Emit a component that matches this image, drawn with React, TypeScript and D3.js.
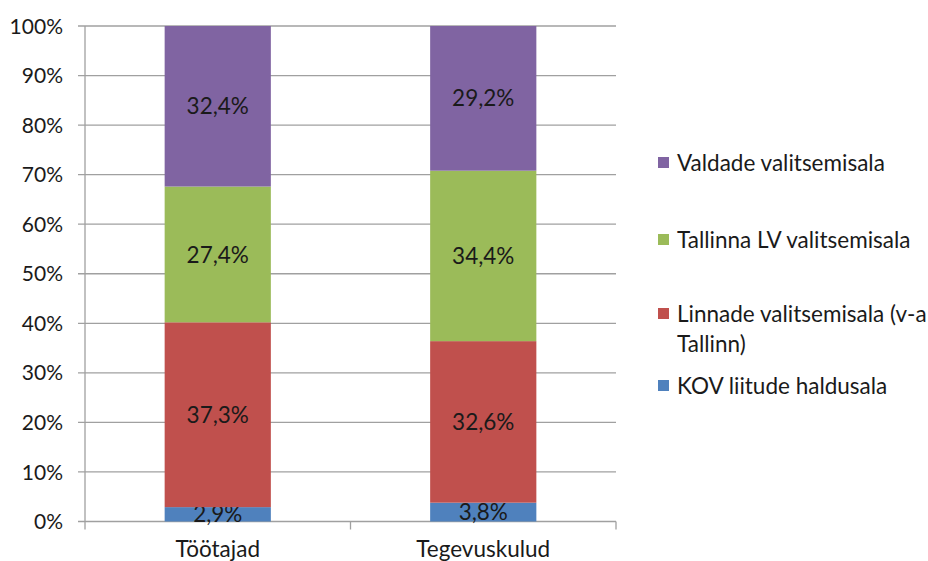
import React from "react";
import * as d3 from "d3";

const categories = ["Töötajad", "Tegevuskulud"];
const seriesNames = [
  "KOV liitude haldusala",
  "Linnade valitsemisala (v-a Tallinn)",
  "Tallinna LV valitsemisala",
  "Valdade valitsemisala",
];
const seriesColors = ["#4F81BD", "#C0504D", "#9BBB59", "#8064A2"];
const kovValues = [2.9, 3.8];
const linnadeValues = [37.3, 32.6];
const tallinnaValues = [27.4, 34.4];
const valdadeValues = [32.4, 29.2];
const yTicks = [0, 10, 20, 30, 40, 50, 60, 70, 80, 90, 100];

const seriesValues = [kovValues, linnadeValues, tallinnaValues, valdadeValues];

const W = 928;
const H = 561;
const M = { left: 85, right: 616, top: 26, bottom: 521.5 };
const FONT = "Lato, 'Liberation Sans', sans-serif";

export default function App() {
  const x = d3.scaleBand<string>().domain(categories).range([M.left, M.right]);
  const y = d3.scaleLinear().domain([0, 100]).range([M.bottom, M.top]);
  const barW = x.bandwidth() * 0.4;

  const rows = categories.map((c, i) => {
    const o: Record<string, number | string> = { cat: c };
    seriesNames.forEach((s, j) => (o[s] = seriesValues[j][i]));
    return o;
  });
  const stack = d3.stack<Record<string, number | string>>().keys(seriesNames);
  const stacked = stack(rows as any);

  const fmt = (v: number) => v.toFixed(1).replace(".", ",") + "%";

  const legendItems = [
    { idx: 3, lines: ["Valdade valitsemisala"], y: 163 },
    { idx: 2, lines: ["Tallinna LV valitsemisala"], y: 240 },
    { idx: 1, lines: ["Linnade valitsemisala (v-a", "Tallinn)"], y: 314 },
    { idx: 0, lines: ["KOV liitude haldusala"], y: 386 },
  ];

  return (
    <svg width={W} height={H} style={{ position: "absolute", left: 0, top: 0, background: "#fff" }} fontFamily={FONT}>
      {/* gridlines */}
      {yTicks.map((t) => (
        <line key={t} x1={M.left - 7} x2={M.right} y1={y(t)} y2={y(t)} stroke="#a0a0a0" strokeWidth={1.3} />
      ))}
      {/* y axis */}
      <line x1={M.left} x2={M.left} y1={M.top} y2={M.bottom} stroke="#a0a0a0" strokeWidth={1.3} />
      {/* x axis ticks */}
      {[M.left, M.left + x.bandwidth(), M.right].map((px, i) => (
        <line key={i} x1={px} x2={px} y1={M.bottom} y2={M.bottom + 8} stroke="#a0a0a0" strokeWidth={1.3} />
      ))}
      {/* y labels */}
      {yTicks.map((t) => (
        <text key={t} x={M.left - 22} y={y(t)} dy="0.36em" textAnchor="end" fontSize={21} fill="#1a1a1a">
          {t}%
        </text>
      ))}
      {/* bars */}
      {stacked.map((layer, j) => (
        <g key={j}>
          {layer.map((d, i) => {
            const cx = (x(categories[i]) as number) + x.bandwidth() / 2;
            return (
              <g key={i}>
                <rect x={cx - barW / 2} width={barW} y={y(d[1])} height={y(d[0]) - y(d[1])} fill={seriesColors[j]} />
                <text x={cx} y={(y(d[0]) + y(d[1])) / 2} dy="0.36em" textAnchor="middle" fontSize={22.5} fill="#1a1a1a">
                  {fmt(seriesValues[j][i])}
                </text>
              </g>
            );
          })}
        </g>
      ))}
      {/* x labels */}
      {categories.map((c) => (
        <text key={c} x={(x(c) as number) + x.bandwidth() / 2} y={557} textAnchor="middle" fontSize={22.5} fill="#1a1a1a">
          {c}
        </text>
      ))}
      {/* legend */}
      {legendItems.map((it) => (
        <g key={it.idx}>
          <rect x={658} y={it.y - 6} width={11} height={11} fill={seriesColors[it.idx]} />
          {it.lines.map((ln, k) => (
            <text key={k} x={677} y={it.y + k * 30} dy="0.36em" fontSize={22.5} fill="#1a1a1a">
              {ln}
            </text>
          ))}
        </g>
      ))}
    </svg>
  );
}
